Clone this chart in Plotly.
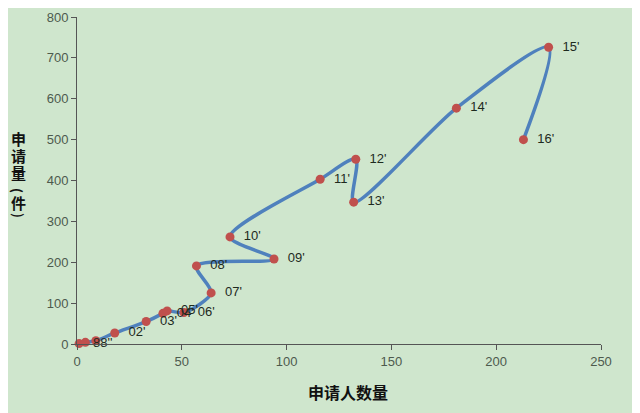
import plotly.graph_objects as go

# data (applicants, applications, label)
applicants = [1, 4, 9, 18, 33, 41, 43, 51, 64, 57, 94, 73, 116, 133, 132, 181, 225, 213]
applications = [1, 4, 8, 27, 55, 75, 81, 77, 125, 191, 208, 262, 403, 452, 347, 577, 726, 500]
labels = ["88''", "", "", "02'", "03'", "04'", "05'", "06'", "07'", "08'", "09'", "10'",
          "11'", "12'", "13'", "14'", "15'", "16'"]

x_ticks = [0, 50, 100, 150, 200, 250]
y_ticks = [0, 100, 200, 300, 400, 500, 600, 700, 800]

x_title = "申请人数量"
# vertical title: characters, with the brackets drawn rotated
y_title_chars = ["申", "请", "量", "(", "件", ")"]
y_title_angles = [0, 0, 0, 90, 0, 90]

bg = "#cfe6cd"
tick_color = "#4d5a4d"

# page body has an 8px margin, so the figure is a bit smaller than the window
W, H = 632, 405
L, R, T, B = 69, 39, 9, 69
plot_h = H - T - B

fig = go.Figure()
fig.add_trace(go.Scatter(
    x=applicants, y=applications,
    mode="lines+markers+text",
    line=dict(color="#4f81bd", width=3.5, shape="spline", smoothing=0.8),
    marker=dict(color="#c0504d", size=9),
    text=["  " + t if t else "" for t in labels],
    textposition="middle right",
    textfont=dict(family="Liberation Sans, Arial, sans-serif", size=13, color="#1e2a1e"),
    cliponaxis=False,
    showlegend=False,
    hoverinfo="x+y",
))

annotations = [dict(
    text="<b>" + x_title + "</b>", xref="paper", yref="paper",
    x=0.517, y=-(384 - (H - B)) / plot_h,
    xanchor="center", yanchor="middle", showarrow=False,
    font=dict(family="Noto Sans CJK SC", size=16, color="#111"),
)]
char_screen_y = [138, 155, 172, 190, 202, 215]
for ch, ang, sy in zip(y_title_chars, y_title_angles, char_screen_y):
    fy = sy - 8
    annotations.append(dict(
        text="<b>" + ch + "</b>", xref="paper", yref="paper", textangle=ang,
        x=0, xshift=-(L - 10), y=(H - B - fy) / plot_h,
        xanchor="center", yanchor="middle", showarrow=False,
        font=dict(family="Noto Sans CJK SC", size=15 if ang == 0 else 13, color="#111"),
    ))

fig.update_layout(
    width=W, height=H,
    paper_bgcolor=bg, plot_bgcolor=bg,
    margin=dict(l=L, r=R, t=T, b=B, autoexpand=False),
    font=dict(family="Liberation Sans, Arial, sans-serif", size=13, color=tick_color),
    xaxis=dict(
        range=[0, 250], tickvals=x_ticks, ticks="outside", ticklen=5,
        tickcolor="#555", showline=True, linecolor="#555", linewidth=1,
        showgrid=False, zeroline=False, tickfont=dict(size=13, color=tick_color),
    ),
    yaxis=dict(
        range=[0, 800], tickvals=y_ticks, ticks="outside", ticklen=5,
        tickcolor="#555", showline=True, linecolor="#555", linewidth=1,
        showgrid=False, zeroline=False, tickfont=dict(size=13, color=tick_color),
    ),
    annotations=annotations,
)

fig.write_html("out.html")
